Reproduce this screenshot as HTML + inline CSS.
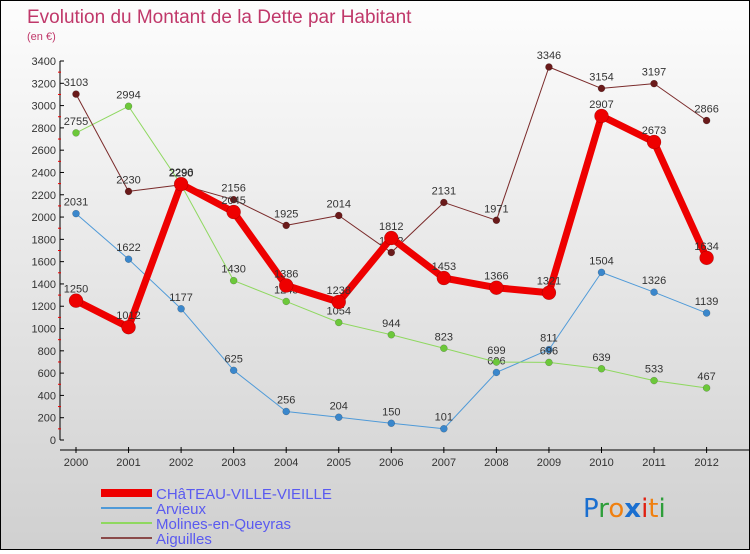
<!DOCTYPE html>
<html><head><meta charset="utf-8"><style>
html,body{margin:0;padding:0;}
body{width:750px;height:550px;overflow:hidden;font-family:"Liberation Sans","DejaVu Sans",sans-serif;}
#wrap{position:absolute;left:0;top:0;width:748px;height:548px;border:1px solid #000;background:linear-gradient(#fdfdfd,#d0d0d0);}
</style></head><body>
<div id="wrap">
<svg id="svg" width="748" height="548" xmlns="http://www.w3.org/2000/svg">
<text x="26" y="22" font-size="19" fill="#c0386a">Evolution du Montant de la Dette par Habitant</text>
<text x="26" y="39" font-size="11" fill="#c0386a">(en €)</text>
<g id="axes"></g>
<g id="series"></g>
<g id="legend"></g>
<g font-size="26" font-family="DejaVu Sans, sans-serif">
<text x="582" y="516"><tspan fill="#1a6fd0">P</tspan><tspan fill="#2e9e3a">r</tspan><tspan fill="#f08010">o</tspan><tspan fill="#1a6fd0" font-weight="bold">x</tspan><tspan fill="#e02010">i</tspan><tspan fill="#f08010">t</tspan><tspan fill="#2e9e3a">i</tspan></text>
</g>
</svg>
</div>
<script>
const years = [2000,2001,2002,2003,2004,2005,2006,2007,2008,2009,2010,2011,2012];
const yTicks = [0,200,400,600,800,1000,1200,1400,1600,1800,2000,2200,2400,2600,2800,3000,3200,3400];
const chateau = [1250,1012,2296,2045,1386,1238,1812,1453,1366,1321,2907,2673,1634];
const arvieux = [2031,1622,1177,625,256,204,150,101,606,811,1504,1326,1139];
const molines = [2755,2994,2290,1430,1243,1054,944,823,699,696,639,533,467];
const aiguilles = [3103,2230,2290,2156,1925,2014,1682,2131,1971,3346,3154,3197,2866];
const seriesNames = ["CHâTEAU-VILLE-VIEILLE","Arvieux","Molines-en-Queyras","Aiguilles"];

const NS="http://www.w3.org/2000/svg";
const X0=75, XS=52.55, Y0=439, YMAX=3400, YTOP=60;
function xp(i){return X0+i*XS;}
function yp(v){return Y0-(v/YMAX)*(Y0-YTOP);}
function mk(tag,attrs,parent){const e=document.createElementNS(NS,tag);for(const k in attrs)e.setAttribute(k,attrs[k]);parent.appendChild(e);return e;}

const axes=document.getElementById('axes');
let yl=mk('line',{x1:59,y1:yp(3400),x2:59,y2:Y0,stroke:'#000'},axes);


let xl=mk('line',{x1:59,y1:449,x2:748,y2:449,stroke:'#000'},axes);


yTicks.forEach((t,i)=>{
  const y=yp(t);
  mk('line',{x1:59,y1:y,x2:63,y2:y,stroke:'#000'},axes);
  if(i<yTicks.length-1) mk('line',{x1:57,y1:yp(t+100),x2:60,y2:yp(t+100),stroke:'#e00'},axes);
  const tx=mk('text',{x:55,y:y+4,'font-size':11,'text-anchor':'end',fill:'#333'},axes);
  tx.textContent=t;
  
  
});
years.forEach((yr,i)=>{
  const x=xp(i);
  mk('line',{x1:x,y1:446,x2:x,y2:452,stroke:'#000'},axes);
  const tx=mk('text',{x:x,y:465,'font-size':11,'text-anchor':'middle',fill:'#333'},axes);
  tx.textContent=yr;
  
  
});

const sg=document.getElementById('series');
function draw(data,color,lw,r,name,dot){
  const g=mk('g',{},sg);
  
  
  const pl=mk('polyline',{points:data.map((v,i)=>xp(i)+','+yp(v)).join(' '),fill:'none',stroke:color,'stroke-width':lw,'stroke-linejoin':'round'},g);
  
  
  data.forEach((v,i)=>{
    const c=mk('circle',{cx:xp(i),cy:yp(v),r:r,fill:dot,stroke:'rgba(0,0,0,0.3)','stroke-width':0.5},g);
    
    
    const t=mk('text',{x:xp(i),y:yp(v)-8,'font-size':11,'text-anchor':'middle',fill:'#333'},g);
    t.textContent=v;
    
    
  });
}
draw(arvieux,'#4f9ad8',1,3.5,'arvieux','#3a87cc');
draw(molines,'#8fd860',1,3.5,'molines','#6cc83a');
draw(aiguilles,'#7a2a2a',1,3.5,'aiguilles','#6a1a1a');
draw(chateau,'#ee0000',7,7,'chateau','#ee0000');

const lg=document.getElementById('legend');
const lcols=['#ee0000','#4f9ad8','#8fd860','#8a4a4a'];
const lw=[8,2,2,2];
seriesNames.forEach((n,i)=>{
  const y=492+i*15;
  const g=mk('g',{},lg);
  
  
  mk('line',{x1:100,y1:y,x2:151,y2:y,stroke:lcols[i],'stroke-width':lw[i]},g);
  const t=mk('text',{x:155,y:y+6,'font-size':15,fill:'#5a5af0'},g);
  t.textContent=n;
});
</script>
</body></html>
